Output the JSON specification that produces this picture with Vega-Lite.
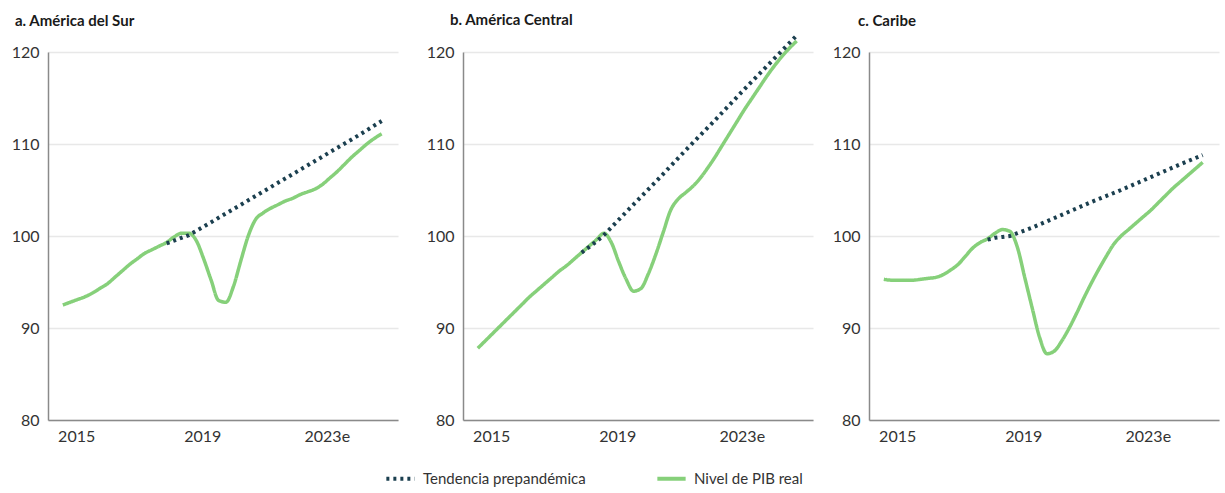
{
  "$schema": "https://vega.github.io/schema/vega-lite/v6.json",
  "background": "white",
  "padding": {"left": 8, "top": 13, "right": 2, "bottom": 2},
  "spacing": 10,
  "config": {
    "font": "Lato, Roboto, sans-serif",
    "view": {"stroke": null},
    "axis": {"ticks": false, "domainColor": "#8a8a8a", "domainWidth": 1.5, "labelColor": "#333333", "labelFontSize": 16, "labelFont": "Lato, Roboto, sans-serif"},
    "title": {"fontSize": 15, "fontWeight": "bold", "color": "#1a1a1a", "anchor": "start", "frame": "group", "offset": 15, "font": "Lato, Roboto, sans-serif"},
    "legend": {"orient": "none", "legendX": 336, "legendY": 410, "direction": "horizontal", "symbolType": "stroke", "symbolSize": 800, "symbolStrokeWidth": 4, "labelFontSize": 15, "labelLimit": 300, "labelColor": "#333333", "columnPadding": 63, "labelOffset": 6, "title": null, "labelFont": "Lato, Roboto, sans-serif"}
  },
  "datasets": {
    "d": [
      {"r": "a", "s": "Nivel de PIB real", "t": 2015.00, "v": 92.5},
      {"r": "a", "s": "Nivel de PIB real", "t": 2015.25, "v": 92.8},
      {"r": "a", "s": "Nivel de PIB real", "t": 2015.50, "v": 93.1},
      {"r": "a", "s": "Nivel de PIB real", "t": 2015.75, "v": 93.4},
      {"r": "a", "s": "Nivel de PIB real", "t": 2016.00, "v": 93.8},
      {"r": "a", "s": "Nivel de PIB real", "t": 2016.25, "v": 94.3},
      {"r": "a", "s": "Nivel de PIB real", "t": 2016.50, "v": 94.8},
      {"r": "a", "s": "Nivel de PIB real", "t": 2016.75, "v": 95.5},
      {"r": "a", "s": "Nivel de PIB real", "t": 2017.00, "v": 96.2},
      {"r": "a", "s": "Nivel de PIB real", "t": 2017.25, "v": 96.9},
      {"r": "a", "s": "Nivel de PIB real", "t": 2017.50, "v": 97.5},
      {"r": "a", "s": "Nivel de PIB real", "t": 2017.75, "v": 98.1},
      {"r": "a", "s": "Nivel de PIB real", "t": 2018.00, "v": 98.5},
      {"r": "a", "s": "Nivel de PIB real", "t": 2018.25, "v": 98.9},
      {"r": "a", "s": "Nivel de PIB real", "t": 2018.50, "v": 99.3},
      {"r": "a", "s": "Nivel de PIB real", "t": 2018.75, "v": 99.9},
      {"r": "a", "s": "Nivel de PIB real", "t": 2019.00, "v": 100.3},
      {"r": "a", "s": "Nivel de PIB real", "t": 2019.25, "v": 100.3},
      {"r": "a", "s": "Nivel de PIB real", "t": 2019.50, "v": 99.5},
      {"r": "a", "s": "Nivel de PIB real", "t": 2019.75, "v": 97.5},
      {"r": "a", "s": "Nivel de PIB real", "t": 2020.00, "v": 95.2},
      {"r": "a", "s": "Nivel de PIB real", "t": 2020.25, "v": 93.0},
      {"r": "a", "s": "Nivel de PIB real", "t": 2020.50, "v": 92.8},
      {"r": "a", "s": "Nivel de PIB real", "t": 2020.75, "v": 94.5},
      {"r": "a", "s": "Nivel de PIB real", "t": 2021.00, "v": 97.3},
      {"r": "a", "s": "Nivel de PIB real", "t": 2021.25, "v": 100.0},
      {"r": "a", "s": "Nivel de PIB real", "t": 2021.50, "v": 101.8},
      {"r": "a", "s": "Nivel de PIB real", "t": 2021.75, "v": 102.5},
      {"r": "a", "s": "Nivel de PIB real", "t": 2022.00, "v": 103.0},
      {"r": "a", "s": "Nivel de PIB real", "t": 2022.25, "v": 103.4},
      {"r": "a", "s": "Nivel de PIB real", "t": 2022.50, "v": 103.8},
      {"r": "a", "s": "Nivel de PIB real", "t": 2022.75, "v": 104.1},
      {"r": "a", "s": "Nivel de PIB real", "t": 2023.00, "v": 104.5},
      {"r": "a", "s": "Nivel de PIB real", "t": 2023.25, "v": 104.8},
      {"r": "a", "s": "Nivel de PIB real", "t": 2023.50, "v": 105.1},
      {"r": "a", "s": "Nivel de PIB real", "t": 2023.75, "v": 105.6},
      {"r": "a", "s": "Nivel de PIB real", "t": 2024.00, "v": 106.3},
      {"r": "a", "s": "Nivel de PIB real", "t": 2024.25, "v": 107.0},
      {"r": "a", "s": "Nivel de PIB real", "t": 2024.50, "v": 107.8},
      {"r": "a", "s": "Nivel de PIB real", "t": 2024.75, "v": 108.6},
      {"r": "a", "s": "Nivel de PIB real", "t": 2025.00, "v": 109.3},
      {"r": "a", "s": "Nivel de PIB real", "t": 2025.25, "v": 110.0},
      {"r": "a", "s": "Nivel de PIB real", "t": 2025.50, "v": 110.6},
      {"r": "a", "s": "Nivel de PIB real", "t": 2025.75, "v": 111.1},
      {"r": "a", "s": "Tendencia prepandémica", "t": 2018.50, "v": 99.2},
      {"r": "a", "s": "Tendencia prepandémica", "t": 2018.75, "v": 99.5},
      {"r": "a", "s": "Tendencia prepandémica", "t": 2019.00, "v": 99.8},
      {"r": "a", "s": "Tendencia prepandémica", "t": 2019.25, "v": 100.1},
      {"r": "a", "s": "Tendencia prepandémica", "t": 2020.00, "v": 101.5},
      {"r": "a", "s": "Tendencia prepandémica", "t": 2021.00, "v": 103.4},
      {"r": "a", "s": "Tendencia prepandémica", "t": 2022.00, "v": 105.3},
      {"r": "a", "s": "Tendencia prepandémica", "t": 2023.00, "v": 107.2},
      {"r": "a", "s": "Tendencia prepandémica", "t": 2024.00, "v": 109.1},
      {"r": "a", "s": "Tendencia prepandémica", "t": 2025.00, "v": 111.0},
      {"r": "a", "s": "Tendencia prepandémica", "t": 2025.75, "v": 112.5},

      {"r": "b", "s": "Nivel de PIB real", "t": 2015.00, "v": 87.8},
      {"r": "b", "s": "Nivel de PIB real", "t": 2015.25, "v": 88.6},
      {"r": "b", "s": "Nivel de PIB real", "t": 2015.50, "v": 89.4},
      {"r": "b", "s": "Nivel de PIB real", "t": 2015.75, "v": 90.2},
      {"r": "b", "s": "Nivel de PIB real", "t": 2016.00, "v": 91.0},
      {"r": "b", "s": "Nivel de PIB real", "t": 2016.25, "v": 91.8},
      {"r": "b", "s": "Nivel de PIB real", "t": 2016.50, "v": 92.6},
      {"r": "b", "s": "Nivel de PIB real", "t": 2016.75, "v": 93.4},
      {"r": "b", "s": "Nivel de PIB real", "t": 2017.00, "v": 94.1},
      {"r": "b", "s": "Nivel de PIB real", "t": 2017.25, "v": 94.8},
      {"r": "b", "s": "Nivel de PIB real", "t": 2017.50, "v": 95.5},
      {"r": "b", "s": "Nivel de PIB real", "t": 2017.75, "v": 96.2},
      {"r": "b", "s": "Nivel de PIB real", "t": 2018.00, "v": 96.8},
      {"r": "b", "s": "Nivel de PIB real", "t": 2018.25, "v": 97.5},
      {"r": "b", "s": "Nivel de PIB real", "t": 2018.50, "v": 98.2},
      {"r": "b", "s": "Nivel de PIB real", "t": 2018.75, "v": 98.9},
      {"r": "b", "s": "Nivel de PIB real", "t": 2019.00, "v": 99.6},
      {"r": "b", "s": "Nivel de PIB real", "t": 2019.25, "v": 100.3},
      {"r": "b", "s": "Nivel de PIB real", "t": 2019.50, "v": 99.3},
      {"r": "b", "s": "Nivel de PIB real", "t": 2019.75, "v": 97.2},
      {"r": "b", "s": "Nivel de PIB real", "t": 2020.00, "v": 95.3},
      {"r": "b", "s": "Nivel de PIB real", "t": 2020.25, "v": 94.0},
      {"r": "b", "s": "Nivel de PIB real", "t": 2020.50, "v": 94.3},
      {"r": "b", "s": "Nivel de PIB real", "t": 2020.75, "v": 95.9},
      {"r": "b", "s": "Nivel de PIB real", "t": 2021.00, "v": 98.0},
      {"r": "b", "s": "Nivel de PIB real", "t": 2021.25, "v": 100.4},
      {"r": "b", "s": "Nivel de PIB real", "t": 2021.50, "v": 102.8},
      {"r": "b", "s": "Nivel de PIB real", "t": 2021.75, "v": 104.0},
      {"r": "b", "s": "Nivel de PIB real", "t": 2022.00, "v": 104.7},
      {"r": "b", "s": "Nivel de PIB real", "t": 2022.25, "v": 105.4},
      {"r": "b", "s": "Nivel de PIB real", "t": 2022.50, "v": 106.3},
      {"r": "b", "s": "Nivel de PIB real", "t": 2022.75, "v": 107.4},
      {"r": "b", "s": "Nivel de PIB real", "t": 2023.00, "v": 108.6},
      {"r": "b", "s": "Nivel de PIB real", "t": 2023.25, "v": 109.9},
      {"r": "b", "s": "Nivel de PIB real", "t": 2023.50, "v": 111.2},
      {"r": "b", "s": "Nivel de PIB real", "t": 2023.75, "v": 112.5},
      {"r": "b", "s": "Nivel de PIB real", "t": 2024.00, "v": 113.8},
      {"r": "b", "s": "Nivel de PIB real", "t": 2024.25, "v": 115.0},
      {"r": "b", "s": "Nivel de PIB real", "t": 2024.50, "v": 116.2},
      {"r": "b", "s": "Nivel de PIB real", "t": 2024.75, "v": 117.4},
      {"r": "b", "s": "Nivel de PIB real", "t": 2025.00, "v": 118.5},
      {"r": "b", "s": "Nivel de PIB real", "t": 2025.25, "v": 119.5},
      {"r": "b", "s": "Nivel de PIB real", "t": 2025.50, "v": 120.4},
      {"r": "b", "s": "Nivel de PIB real", "t": 2025.75, "v": 121.2},
      {"r": "b", "s": "Tendencia prepandémica", "t": 2018.50, "v": 98.2},
      {"r": "b", "s": "Tendencia prepandémica", "t": 2018.75, "v": 98.8},
      {"r": "b", "s": "Tendencia prepandémica", "t": 2019.00, "v": 99.4},
      {"r": "b", "s": "Tendencia prepandémica", "t": 2019.25, "v": 100.1},
      {"r": "b", "s": "Tendencia prepandémica", "t": 2020.00, "v": 102.6},
      {"r": "b", "s": "Tendencia prepandémica", "t": 2021.00, "v": 105.9},
      {"r": "b", "s": "Tendencia prepandémica", "t": 2022.00, "v": 109.3},
      {"r": "b", "s": "Tendencia prepandémica", "t": 2023.00, "v": 112.6},
      {"r": "b", "s": "Tendencia prepandémica", "t": 2024.00, "v": 116.0},
      {"r": "b", "s": "Tendencia prepandémica", "t": 2025.00, "v": 119.3},
      {"r": "b", "s": "Tendencia prepandémica", "t": 2025.75, "v": 121.8},

      {"r": "c", "s": "Nivel de PIB real", "t": 2015.00, "v": 95.3},
      {"r": "c", "s": "Nivel de PIB real", "t": 2015.25, "v": 95.2},
      {"r": "c", "s": "Nivel de PIB real", "t": 2015.50, "v": 95.2},
      {"r": "c", "s": "Nivel de PIB real", "t": 2015.75, "v": 95.2},
      {"r": "c", "s": "Nivel de PIB real", "t": 2016.00, "v": 95.2},
      {"r": "c", "s": "Nivel de PIB real", "t": 2016.25, "v": 95.3},
      {"r": "c", "s": "Nivel de PIB real", "t": 2016.50, "v": 95.4},
      {"r": "c", "s": "Nivel de PIB real", "t": 2016.75, "v": 95.5},
      {"r": "c", "s": "Nivel de PIB real", "t": 2017.00, "v": 95.8},
      {"r": "c", "s": "Nivel de PIB real", "t": 2017.25, "v": 96.3},
      {"r": "c", "s": "Nivel de PIB real", "t": 2017.50, "v": 96.9},
      {"r": "c", "s": "Nivel de PIB real", "t": 2017.75, "v": 97.8},
      {"r": "c", "s": "Nivel de PIB real", "t": 2018.00, "v": 98.7},
      {"r": "c", "s": "Nivel de PIB real", "t": 2018.25, "v": 99.3},
      {"r": "c", "s": "Nivel de PIB real", "t": 2018.50, "v": 99.7},
      {"r": "c", "s": "Nivel de PIB real", "t": 2018.75, "v": 100.3},
      {"r": "c", "s": "Nivel de PIB real", "t": 2019.00, "v": 100.7},
      {"r": "c", "s": "Nivel de PIB real", "t": 2019.25, "v": 100.5},
      {"r": "c", "s": "Nivel de PIB real", "t": 2019.50, "v": 98.8},
      {"r": "c", "s": "Nivel de PIB real", "t": 2019.75, "v": 95.5},
      {"r": "c", "s": "Nivel de PIB real", "t": 2020.00, "v": 92.2},
      {"r": "c", "s": "Nivel de PIB real", "t": 2020.25, "v": 89.0},
      {"r": "c", "s": "Nivel de PIB real", "t": 2020.50, "v": 87.2},
      {"r": "c", "s": "Nivel de PIB real", "t": 2020.75, "v": 87.5},
      {"r": "c", "s": "Nivel de PIB real", "t": 2021.00, "v": 88.6},
      {"r": "c", "s": "Nivel de PIB real", "t": 2021.25, "v": 90.0},
      {"r": "c", "s": "Nivel de PIB real", "t": 2021.50, "v": 91.6},
      {"r": "c", "s": "Nivel de PIB real", "t": 2021.75, "v": 93.3},
      {"r": "c", "s": "Nivel de PIB real", "t": 2022.00, "v": 94.9},
      {"r": "c", "s": "Nivel de PIB real", "t": 2022.25, "v": 96.4},
      {"r": "c", "s": "Nivel de PIB real", "t": 2022.50, "v": 97.8},
      {"r": "c", "s": "Nivel de PIB real", "t": 2022.75, "v": 99.1},
      {"r": "c", "s": "Nivel de PIB real", "t": 2023.00, "v": 100.0},
      {"r": "c", "s": "Nivel de PIB real", "t": 2023.25, "v": 100.7},
      {"r": "c", "s": "Nivel de PIB real", "t": 2023.50, "v": 101.4},
      {"r": "c", "s": "Nivel de PIB real", "t": 2023.75, "v": 102.1},
      {"r": "c", "s": "Nivel de PIB real", "t": 2024.00, "v": 102.8},
      {"r": "c", "s": "Nivel de PIB real", "t": 2024.25, "v": 103.6},
      {"r": "c", "s": "Nivel de PIB real", "t": 2024.50, "v": 104.4},
      {"r": "c", "s": "Nivel de PIB real", "t": 2024.75, "v": 105.2},
      {"r": "c", "s": "Nivel de PIB real", "t": 2025.00, "v": 105.9},
      {"r": "c", "s": "Nivel de PIB real", "t": 2025.25, "v": 106.6},
      {"r": "c", "s": "Nivel de PIB real", "t": 2025.50, "v": 107.3},
      {"r": "c", "s": "Nivel de PIB real", "t": 2025.75, "v": 108.0},
      {"r": "c", "s": "Tendencia prepandémica", "t": 2018.50, "v": 99.6},
      {"r": "c", "s": "Tendencia prepandémica", "t": 2018.75, "v": 99.8},
      {"r": "c", "s": "Tendencia prepandémica", "t": 2019.00, "v": 99.9},
      {"r": "c", "s": "Tendencia prepandémica", "t": 2019.25, "v": 100.0},
      {"r": "c", "s": "Tendencia prepandémica", "t": 2019.50, "v": 100.3},
      {"r": "c", "s": "Tendencia prepandémica", "t": 2020.00, "v": 100.9},
      {"r": "c", "s": "Tendencia prepandémica", "t": 2021.00, "v": 102.3},
      {"r": "c", "s": "Tendencia prepandémica", "t": 2022.00, "v": 103.7},
      {"r": "c", "s": "Tendencia prepandémica", "t": 2023.00, "v": 105.0},
      {"r": "c", "s": "Tendencia prepandémica", "t": 2024.00, "v": 106.4},
      {"r": "c", "s": "Tendencia prepandémica", "t": 2025.00, "v": 107.8},
      {"r": "c", "s": "Tendencia prepandémica", "t": 2025.75, "v": 108.8}
    ]
  },
  "resolve": {"scale": {"color": "shared", "strokeDash": "shared"}},
  "hconcat": [
    {
      "width": 350, "height": 368,
      "title": {"text": "a. América del Sur", "dx": -33},
      "data": {"name": "d"},
      "transform": [{"filter": "datum.r === 'a'"}],
      "encoding": {
        "x": {"field": "t", "type": "quantitative", "scale": {"domain": [2014.5, 2026.3], "nice": false, "zero": false},
              "axis": {"title": null, "values": [2015.45, 2019.7, 2023.9], "labelExpr": "datum.value < 2017 ? '2015' : datum.value < 2021 ? '2019' : '2023e'", "grid": false, "labelPadding": 8}},
        "y": {"field": "v", "type": "quantitative", "scale": {"domain": [80, 120], "nice": false, "zero": false},
              "axis": {"title": null, "values": [80, 90, 100, 110, 120], "grid": true, "gridColor": "#e8e8e8", "gridWidth": 1.5, "labelPadding": 9, "minExtent": 40, "maxExtent": 40}},
        "color": {"field": "s", "type": "nominal", "scale": {"domain": ["Tendencia prepandémica", "Nivel de PIB real"], "range": ["#1b3f4f", "#86d07a"]}},
        "strokeDash": {"field": "s", "type": "nominal", "scale": {"domain": ["Tendencia prepandémica", "Nivel de PIB real"], "range": [[3, 4], [1, 0]]}}
      },
      "layer": [
        {"transform": [{"filter": "datum.s === 'Nivel de PIB real'"}], "mark": {"type": "line", "interpolate": "monotone", "strokeWidth": 3.5}},
        {"transform": [{"filter": "datum.s === 'Tendencia prepandémica'"}], "mark": {"type": "line", "strokeWidth": 4}}
      ]
    },
    {
      "width": 350, "height": 368,
      "title": {"text": "b. América Central", "dx": -13, "offset": -1},
      "data": {"name": "d"},
      "transform": [{"filter": "datum.r === 'b'"}],
      "encoding": {
        "x": {"field": "t", "type": "quantitative", "scale": {"domain": [2014.5, 2026.3], "nice": false, "zero": false},
              "axis": {"title": null, "values": [2015.45, 2019.7, 2023.9], "labelExpr": "datum.value < 2017 ? '2015' : datum.value < 2021 ? '2019' : '2023e'", "grid": false, "labelPadding": 8}},
        "y": {"field": "v", "type": "quantitative", "scale": {"domain": [80, 120], "nice": false, "zero": false},
              "axis": {"title": null, "values": [80, 90, 100, 110, 120], "grid": true, "gridColor": "#e8e8e8", "gridWidth": 1.5, "labelPadding": 9, "minExtent": 55, "maxExtent": 55}},
        "color": {"field": "s", "type": "nominal", "scale": {"domain": ["Tendencia prepandémica", "Nivel de PIB real"], "range": ["#1b3f4f", "#86d07a"]}},
        "strokeDash": {"field": "s", "type": "nominal", "scale": {"domain": ["Tendencia prepandémica", "Nivel de PIB real"], "range": [[3, 4], [1, 0]]}}
      },
      "layer": [
        {"transform": [{"filter": "datum.s === 'Nivel de PIB real'"}], "mark": {"type": "line", "interpolate": "monotone", "strokeWidth": 3.5}},
        {"transform": [{"filter": "datum.s === 'Tendencia prepandémica'"}], "mark": {"type": "line", "strokeWidth": 4}}
      ]
    },
    {
      "width": 350, "height": 368,
      "title": {"text": "c. Caribe", "dx": -11},
      "data": {"name": "d"},
      "transform": [{"filter": "datum.r === 'c'"}],
      "encoding": {
        "x": {"field": "t", "type": "quantitative", "scale": {"domain": [2014.5, 2026.3], "nice": false, "zero": false},
              "axis": {"title": null, "values": [2015.45, 2019.7, 2023.9], "labelExpr": "datum.value < 2017 ? '2015' : datum.value < 2021 ? '2019' : '2023e'", "grid": false, "labelPadding": 8}},
        "y": {"field": "v", "type": "quantitative", "scale": {"domain": [80, 120], "nice": false, "zero": false},
              "axis": {"title": null, "values": [80, 90, 100, 110, 120], "grid": true, "gridColor": "#e8e8e8", "gridWidth": 1.5, "labelPadding": 9, "minExtent": 46, "maxExtent": 46}},
        "color": {"field": "s", "type": "nominal", "scale": {"domain": ["Tendencia prepandémica", "Nivel de PIB real"], "range": ["#1b3f4f", "#86d07a"]}},
        "strokeDash": {"field": "s", "type": "nominal", "scale": {"domain": ["Tendencia prepandémica", "Nivel de PIB real"], "range": [[3, 4], [1, 0]]}}
      },
      "layer": [
        {"transform": [{"filter": "datum.s === 'Nivel de PIB real'"}], "mark": {"type": "line", "interpolate": "monotone", "strokeWidth": 3.5}},
        {"transform": [{"filter": "datum.s === 'Tendencia prepandémica'"}], "mark": {"type": "line", "strokeWidth": 4}}
      ]
    }
  ]
}
